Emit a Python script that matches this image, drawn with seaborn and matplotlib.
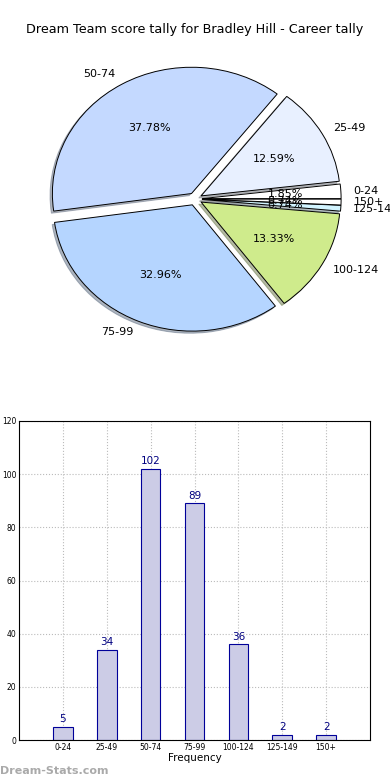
import numpy as np
import matplotlib
matplotlib.use('Agg')
import matplotlib.pyplot as plt
import seaborn as sns
import pandas as pd

sns.set_style("white")
plt.rcParams['font.family'] = ['DejaVu Sans']
plt.rcParams['text.color'] = 'black'
plt.rcParams['axes.labelcolor'] = 'black'
plt.rcParams['xtick.color'] = 'black'
plt.rcParams['ytick.color'] = 'black'

# data
ranges = ['0-24', '25-49', '50-74', '75-99', '100-124', '125-149', '150+']
counts = [5, 34, 102, 89, 36, 2, 2]
pie_labels = ['0-24', '25-49', '50-74', '75-99', '100-124', '125-14', '150+']
pie_colors = ['#ffffff', '#e8f0ff', '#c4d9ff', '#b5d5ff', '#cfeb8c', '#d2f4ff', '#ffffff']

fig = plt.figure(figsize=(3.9, 7.8), dpi=100)
fig.text(0.5, 1 - 30 / 780, 'Dream Team score tally for Bradley Hill - Career tally',
         ha='center', va='center', fontsize=9.2)

# pie
w = 0.892 * 0.96
h = 0.409 * 0.95
cx, cy = 195 / 390, 1 - 199 / 780
ax1 = fig.add_axes([cx - w / 2, cy - h / 2, w, h])
wedges, texts, autotexts = ax1.pie(
    counts, labels=pie_labels, colors=pie_colors,
    explode=[0.05] * 7, autopct='%1.2f%%',
    shadow={'ox': -0.012, 'oy': -0.012, 'shade': 0.5}, startangle=0,
    counterclock=True, wedgeprops=dict(edgecolor='black', linewidth=0.7),
    labeldistance=1.09, textprops=dict(fontsize=8))
ax1.set_aspect('auto')
ax1.set_xlim(-1.2, 1.2)
ax1.set_ylim(-1.2, 1.2)
ax1.axis('off')

# bar
ax2 = fig.add_axes([19 / 390, 1 - 740 / 780, 351 / 390, 319 / 780])
df = pd.DataFrame({'range': ranges, 'count': counts})
sns.barplot(data=df, x='range', y='count', ax=ax2, width=0.45,
            color='#ccccE6', edgecolor='#000099', linewidth=0.8, saturation=1)
for i, c in enumerate(counts):
    ax2.text(i, c + 1, str(c), ha='center', va='bottom', fontsize=7.5, color='#000080')
ax2.set_xlim(-1, 7)
ax2.set_ylim(0, 120)
ax2.set_yticks(range(0, 121, 20))
ax2.set_xlabel('Frequency', fontsize=7.5, labelpad=1)
ax2.set_ylabel('')
ax2.tick_params(direction='in', labelsize=5.5, length=3, pad=2)
ax2.grid(True, linestyle=':', color='#bbbbbb', linewidth=0.8)
ax2.set_axisbelow(True)
for s in ax2.spines.values():
    s.set_color('black')
    s.set_linewidth(0.8)

fig.text(0.0, 1 - 771 / 780, 'Dream-Stats.com', ha='left', va='center',
         fontsize=8, color='#aaaaaa', fontweight='bold')

fig.savefig('out.png', dpi=100)
